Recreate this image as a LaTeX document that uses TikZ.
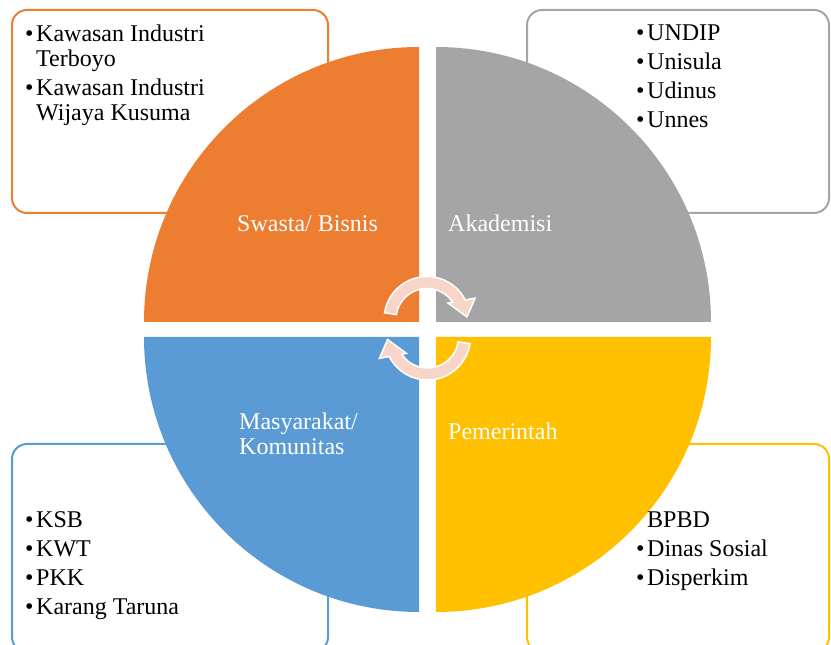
\documentclass[tikz,border=0pt]{standalone}
\usepackage{fontspec}
\setmainfont{Liberation Serif}
\usetikzlibrary{positioning}
\definecolor{corange}{HTML}{ED7D31}
\definecolor{cgrey}{HTML}{A5A5A5}
\definecolor{cblue}{HTML}{5B9BD5}
\definecolor{cyellow}{HTML}{FFC000}
\definecolor{cpeach}{HTML}{F8D5C9}
\tikzset{
  frame/.style={draw=#1, line width=2pt, rounded corners=15pt},
  quarter/.style={fill=#1},
  lbl/.style={text=white, font=\fontsize{24}{25}\selectfont, inner sep=0pt, anchor=base west},
  lst/.style={font=\fontsize{24}{25}\selectfont, align=left, inner sep=0pt, anchor=north west},
  cycle arrow/.style={fill=cpeach, draw=white, line width=1.5pt},
}
\newcommand{\bul}{\makebox[11pt][l]{\textbullet}}
\begin{document}
\begin{tikzpicture}[x=1pt, y=1pt]
  \newcommand{\cyc}{(171:43) arc[start angle=171, end angle=27, radius=43] -- (24:52.6) -- (3.6:40)
    -- (38:26.7) -- (34:31) arc[start angle=34, end angle=171, radius=31] -- cycle}
  \useasboundingbox (0,0) rectangle (831,645);

  % ---- frames behind the circle
  \draw[frame=corange] (12,432) rectangle (328,635);
  \draw[frame=cgrey]   (527,432) rectangle (829,635);
  \draw[frame=cblue]   (12,-7) rectangle (328,201);
  \draw[frame=cyellow] (527,-7) rectangle (829,201);

  % ---- the four quarters
  \fill[quarter=corange] (419,323) -- ++(-275,0) arc[start angle=180, end angle=90, radius=275] -- cycle;
  \fill[quarter=cgrey]   (436,323) -- ++(0,275) arc[start angle=90, end angle=0, radius=275] -- cycle;
  \fill[quarter=cblue]   (419,308) -- ++(0,-275) arc[start angle=270, end angle=180, radius=275] -- cycle;
  \fill[quarter=cyellow] (436,308) -- ++(275,0) arc[start angle=0, end angle=-90, radius=275] -- cycle;

  % ---- labels
  \node[lbl] (sw) at (237,413) {Swasta/ Bisnis};
  \node[lbl] (ak) at (448,413) {Akademisi};
  \node[lbl, align=left, anchor=north west] (ms) at (239,232.4) {Masyarakat/\\Komunitas};
  \node[lbl] (pm) at (448,205) {Pemerintah};

  % ---- lists
  \node[lst] (swl) at (25,620.7) {\bul Kawasan Industri\\\hspace*{11pt}Terboyo\\[4pt]
    \bul Kawasan Industri\\\hspace*{11pt}Wijaya Kusuma};
  \node[lst] (akl) at (636,620.9) {\bul UNDIP\\[4pt]\bul Unisula\\[4pt]\bul Udinus\\[4pt]\bul Unnes};
  \node[lst] (msl) at (25,133.2) {\bul KSB\\[4pt]\bul KWT\\[4pt]\bul PKK\\[4pt]\bul Karang Taruna};
  \node[lst] (pml) at (636,133.2) {\hspace*{11pt}BPBD\\[4pt]\bul Dinas Sosial\\[4pt]\bul Disperkim};

  % ---- arrows in the middle
  \draw[cycle arrow, shift={(427,325.5)}] \cyc;
  \draw[cycle arrow, shift={(427.5,308)}, rotate=180] \cyc;
\end{tikzpicture}
\end{document}
